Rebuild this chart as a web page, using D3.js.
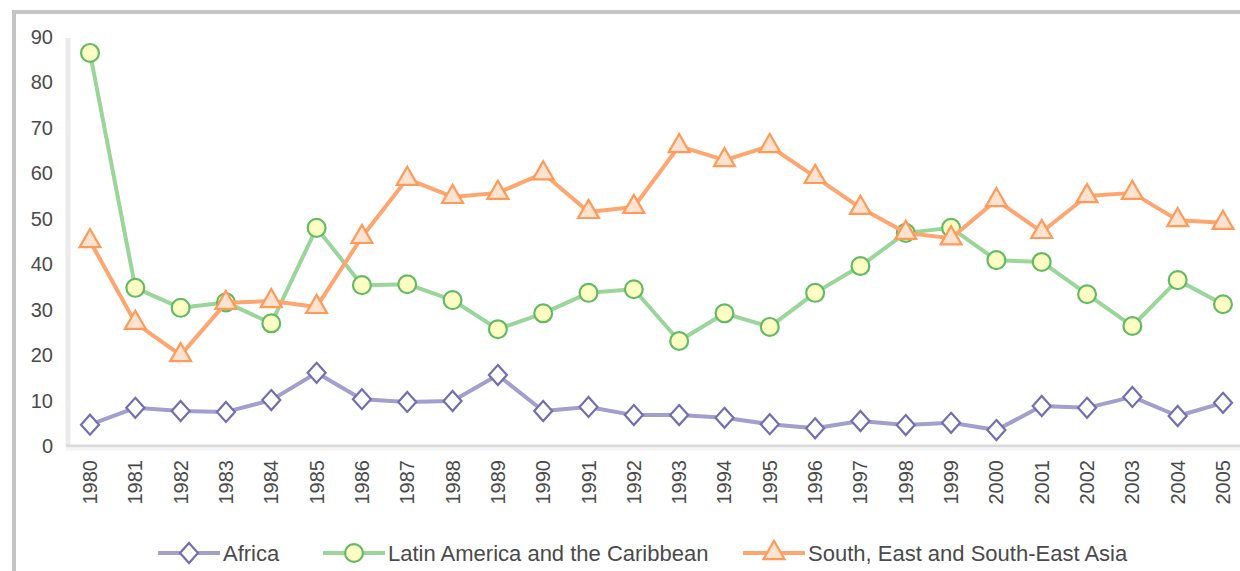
<!DOCTYPE html>
<html>
<head>
<meta charset="utf-8">
<script src="https://cdn.jsdelivr.net/npm/d3@7"></script>
<style>
  body { margin: 0; background: #fff; }
  svg { display: block; }
  text { font-family: "Liberation Sans", Arial, sans-serif; fill: #4a4a4a; }
</style>
</head>
<body>
<script>
// values
const years = ['1980','1981','1982','1983','1984','1985','1986','1987','1988','1989','1990','1991','1992',
	'1993','1994','1995','1996','1997','1998','1999','2000','2001','2002','2003','2004','2005'];
const africa = [4.7, 8.4, 7.7, 7.5, 10.1, 16.1, 10.3, 9.7, 9.9, 15.6, 7.7, 8.6, 6.8,
	6.8, 6.2, 4.8, 3.9, 5.5, 4.6, 5.1, 3.5, 8.8, 8.4, 10.8, 6.6, 9.5];
const latin = [86.5, 34.8, 30.4, 31.6, 27.0, 48.0, 35.4, 35.6, 32.1, 25.7, 29.2, 33.7, 34.5,
	23.1, 29.2, 26.2, 33.7, 39.6, 46.9, 48.0, 40.9, 40.5, 33.4, 26.4, 36.5, 31.2];
const asia = [45.1, 27.1, 20.0, 31.5, 31.9, 30.6, 46.0, 58.8, 54.8, 55.7, 60.0, 51.5, 52.6,
	66.0, 62.9, 66.0, 59.2, 52.4, 46.9, 45.7, 54.1, 47.1, 55.0, 55.7, 49.7, 49.1];
const series_names = ['Africa', 'Latin America and the Caribbean', 'South, East and South-East Asia'];
const y_ticks = [0, 10, 20, 30, 40, 50, 60, 70, 80, 90];

const svg_width = 1240;
const svg_height = 571;

var svg = d3.select('body').append('svg')
	.attr('width', svg_width)
	.attr('height', svg_height);

// outer frame
svg.append('rect')
	.attr('x', 14).attr('y', 12)
	.attr('width', svg_width).attr('height', svg_height)
	.attr('fill', 'none')
	.attr('stroke', '#c4c4c4')
	.attr('stroke-width', 4);

var x = d3.scalePoint()
	.domain(years)
	.range([90, 1223]);

var y = d3.scaleLinear()
	.domain([0, 90])
	.range([446, 37]);

// axis lines
svg.append('line')
	.attr('x1', 68).attr('x2', 68)
	.attr('y1', 38).attr('y2', 446)
	.attr('stroke', '#ebebeb').attr('stroke-width', 5);
svg.append('line')
	.attr('x1', 66).attr('x2', svg_width)
	.attr('y1', 446).attr('y2', 446)
	.attr('stroke', '#dadada').attr('stroke-width', 3);
svg.append('line')
	.attr('x1', 66).attr('x2', svg_width)
	.attr('y1', 449).attr('y2', 449)
	.attr('stroke', '#f4f4f4').attr('stroke-width', 3);

// y labels
svg.append('g')
	.selectAll('text')
	.data(y_ticks)
	.enter()
	.append('text')
		.attr('x', 53)
		.attr('y', function(d) { return y(d); })
		.attr('dy', '0.35em')
		.attr('text-anchor', 'end')
		.style('font-size', '20px')
		.text(function(d) { return d; });

// x labels, rotated
svg.append('g')
	.selectAll('text')
	.data(years)
	.enter()
	.append('text')
		.attr('transform', function(d) { return 'translate(' + x(d) + ',460) rotate(-90)'; })
		.attr('dy', '0.35em')
		.attr('text-anchor', 'end')
		.style('font-size', '20px')
		.text(function(d) { return d; });

function diamond(w, h)
{
	return 'M0,' + (-h) + 'L' + w + ',0L0,' + h + 'L' + (-w) + ',0Z';
}

const styles = [
	{ line: '#a29ecd', stroke: '#736eb0', fill: '#ffffff', shape: diamond(9, 10) },
	{ line: '#9ad59a', stroke: '#62bb62', fill: '#ffffc4', shape: d3.symbol().type(d3.symbolCircle).size(250)() },
	{ line: '#ffa670', stroke: '#ff9a58', fill: '#ffe2cf', shape: d3.symbol().type(d3.symbolTriangle).size(190)() }
];
const all_series = [africa, latin, asia];

all_series.forEach(function(values, i)
{
	var st = styles[i];
	svg.append('path')
		.datum(values)
		.attr('fill', 'none')
		.attr('stroke', st.line)
		.attr('stroke-width', 4)
		.attr('stroke-linejoin', 'round')
		.attr('d', d3.line()
			.x(function(d, j) { return x(years[j]); })
			.y(function(d) { return y(d); }));
	svg.append('g')
		.selectAll('path')
		.data(values)
		.enter()
		.append('path')
			.attr('transform', function(d, j) { return 'translate(' + x(years[j]) + ',' + y(d) + ')'; })
			.attr('d', st.shape)
			.attr('fill', st.fill)
			.attr('stroke', st.stroke)
			.attr('stroke-width', 2.2);
});

// legend
const legend_pos = [158, 323, 743];
series_names.forEach(function(name, i)
{
	var st = styles[i];
	var g = svg.append('g').attr('transform', 'translate(' + legend_pos[i] + ',553)');
	g.append('line')
		.attr('x1', 0).attr('x2', 62)
		.attr('stroke', st.line).attr('stroke-width', 4);
	g.append('path')
		.attr('transform', 'translate(31,0)')
		.attr('d', st.shape)
		.attr('fill', st.fill)
		.attr('stroke', st.stroke)
		.attr('stroke-width', 2.2);
	g.append('text')
		.attr('x', 65)
		.attr('dy', '0.35em')
		.style('font-size', '22px')
		.text(name);
});
</script>
</body>
</html>
